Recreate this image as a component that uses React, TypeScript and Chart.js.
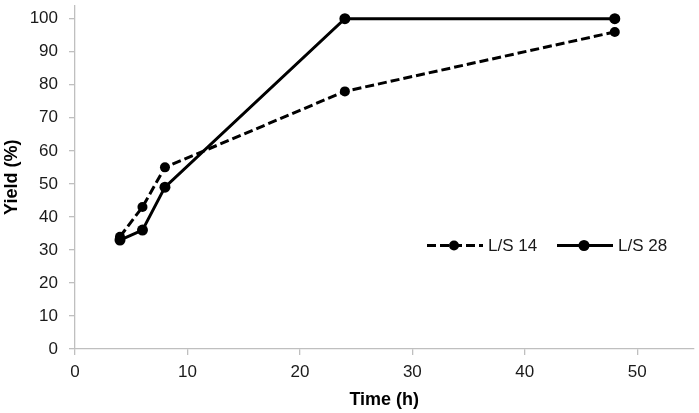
import React, { useEffect, useRef } from "react";
import { Chart, registerables } from "chart.js";

Chart.register(...registerables);

const timesH = [4, 6, 8, 24, 48];
const yieldLS14 = [34, 43, 55, 78, 96];
const yieldLS28 = [33, 36, 49, 100, 100];
const seriesNames = ["L/S 14", "L/S 28"];
const xTitle = "Time (h)";
const yTitle = "Yield (%)";
const xTickValues = [0, 10, 20, 30, 40, 50];
const yTickValues = [0, 10, 20, 30, 40, 50, 60, 70, 80, 90, 100];

const FONT = "'Liberation Sans', Arial, sans-serif";

const legendPlugin = {
  id: "insideLegend",
  afterDraw(chart: any) {
    const { ctx, chartArea } = chart;
    const ds = chart.data.datasets;
    const cy = chartArea.top + 240;
    const items = [
      { x: chartArea.left + 352, ds: ds[0] },
      { x: chartArea.left + 482, ds: ds[1] },
    ];
    ctx.save();
    items.forEach((it) => {
      const d = it.ds;
      ctx.strokeStyle = "#000";
      ctx.lineWidth = d.borderWidth;
      ctx.setLineDash(d.borderDash || []);
      ctx.beginPath();
      ctx.moveTo(it.x, cy);
      ctx.lineTo(it.x + 56, cy);
      ctx.stroke();
      ctx.setLineDash([]);
      ctx.fillStyle = "#000";
      ctx.beginPath();
      ctx.arc(it.x + 27, cy, d.pointRadius, 0, Math.PI * 2);
      ctx.fill();
      ctx.font = `17px ${FONT}`;
      ctx.textBaseline = "middle";
      ctx.textAlign = "left";
      ctx.fillStyle = "#1a1a1a";
      ctx.fillText(d.label, it.x + 61, cy + 1);
    });
    ctx.restore();
  },
};

export default function App() {
  const ref = useRef<HTMLCanvasElement>(null);
  useEffect(() => {
    document.body.style.margin = "0";
    const toPts = (vals: number[]) => timesH.map((t, i) => ({ x: t, y: vals[i] }));
    const chart = new Chart(ref.current!, {
      type: "line",
      data: {
        datasets: [
          {
            label: seriesNames[0],
            data: toPts(yieldLS14),
            borderColor: "#000",
            backgroundColor: "#000",
            borderWidth: 3,
            borderDash: [9, 4],
            pointRadius: 5,
            pointBackgroundColor: "#000",
            pointBorderWidth: 0,
            tension: 0,
          },
          {
            label: seriesNames[1],
            data: toPts(yieldLS28),
            borderColor: "#000",
            backgroundColor: "#000",
            borderWidth: 3,
            pointRadius: 5.5,
            pointBackgroundColor: "#000",
            pointBorderWidth: 0,
            tension: 0,
          },
        ],
      },
      plugins: [legendPlugin],
      options: {
        animation: false,
        responsive: true,
        maintainAspectRatio: false,
        layout: { padding: { top: 0, right: 2, bottom: 0, left: 0 } },
        plugins: { legend: { display: false }, tooltip: { enabled: false } },
        scales: {
          x: {
            type: "linear",
            min: 0,
            max: 55,
            ticks: {
              color: "#1a1a1a",
              font: { family: FONT, size: 17 },
              padding: 7,
            },
            afterBuildTicks: (scale: any) => {
              scale.ticks = xTickValues.map((v) => ({ value: v }));
            },
            afterFit: (scale: any) => {
              scale.height = 64;
            },
            grid: {
              drawOnChartArea: false,
              drawTicks: true,
              tickLength: 6,
              color: "#bfbfbf",
              lineWidth: 1.3,
            },
            border: { color: "#bfbfbf", width: 1.3 },
            title: {
              display: true,
              text: xTitle,
              color: "#000",
              font: { family: FONT, size: 18, weight: "bold" },
              padding: { top: 2, bottom: 2 },
            },
          },
          y: {
            min: 0,
            max: 104,
            ticks: {
              color: "#1a1a1a",
              font: { family: FONT, size: 17 },
              padding: 11,
            },
            afterBuildTicks: (scale: any) => {
              scale.ticks = yTickValues.map((v) => ({ value: v }));
            },
            afterFit: (scale: any) => {
              scale.width = 75;
              scale.paddingTop = 0;
            },
            grid: {
              drawOnChartArea: false,
              drawTicks: true,
              tickLength: 6,
              color: "#bfbfbf",
              lineWidth: 1.3,
            },
            border: { color: "#bfbfbf", width: 1.3 },
            title: {
              display: true,
              text: yTitle,
              color: "#000",
              font: { family: FONT, size: 18, weight: "bold" },
              padding: { top: 1, bottom: 1 },
            },
          },
        },
      },
    });
    return () => chart.destroy();
  }, []);
  return (
    <div style={{ width: 699, height: 413, position: "relative", background: "#fff" }}>
      <canvas ref={ref} />
    </div>
  );
}
